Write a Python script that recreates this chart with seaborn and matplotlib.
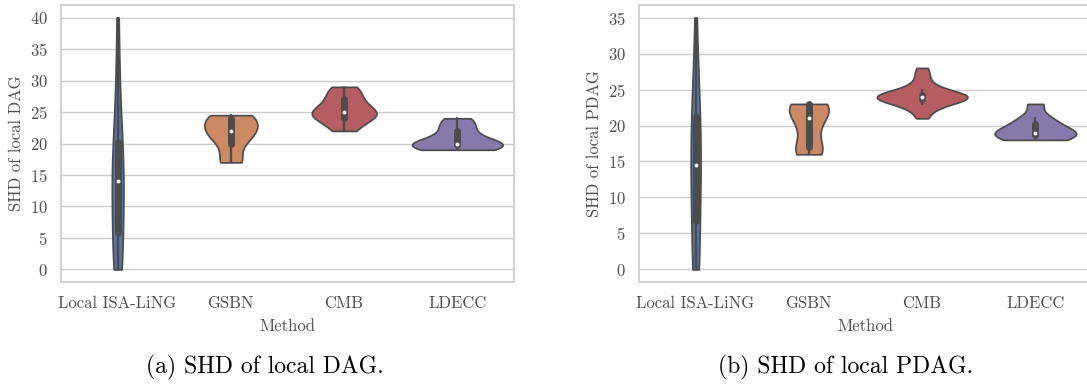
import matplotlib
matplotlib.use("Agg")
import matplotlib.pyplot as plt
import pandas as pd
import seaborn as sns
from matplotlib.ticker import MultipleLocator

methods = ['Local ISA-LiNG', 'GSBN', 'CMB', 'LDECC']

# SHD of local DAG, one value per run
dag_isa = [0, 0, 0, 1, 5, 6, 7, 9, 12, 14, 14, 15, 16, 18, 20, 21, 24, 28, 33, 40]
dag_gsbn = [17, 17, 17, 18, 20, 20, 21, 21, 22, 22, 22, 22, 23, 23, 24, 24, 24, 24.5, 24.5, 24.5]
dag_cmb = [22, 22, 23, 24, 24, 24, 24, 25, 25, 25, 25, 25, 26, 26, 27, 27, 28, 28, 29, 29]
dag_ldecc = [19, 19, 19, 19, 19, 20, 20, 20, 20, 20, 20, 20, 21, 21, 22, 22, 23, 23, 24, 24]

# SHD of local PDAG, one value per run
pdag_isa = [0, 0, 0, 1, 6, 7, 9, 10, 12, 14, 15, 16, 17, 19, 21, 22, 24, 26, 29, 35]
pdag_gsbn = [16, 16, 16, 16, 17, 17, 18, 19, 20, 21, 21, 21, 22, 22, 23, 23, 23, 23, 23, 23]
pdag_cmb = [21, 22, 23, 23, 23, 24, 24, 24, 24, 24, 24, 24, 24, 24, 24, 25, 25, 26, 27, 28]
pdag_ldecc = [18, 18, 18, 18, 18, 19, 19, 19, 19, 19, 19, 19, 20, 20, 20, 21, 21, 21, 23, 23]

deep = sns.color_palette('deep')
colors = [deep[0], deep[1], deep[3], deep[4]]


def long_df(groups):
    rows = []
    for m, vals in zip(methods, groups):
        for v in vals:
            rows.append({'Method': m, 'SHD': v})
    return pd.DataFrame(rows)


df_dag = long_df([dag_isa, dag_gsbn, dag_cmb, dag_ldecc])
df_pdag = long_df([pdag_isa, pdag_gsbn, pdag_cmb, pdag_ldecc])

sns.set_theme(style='whitegrid')
plt.rcParams['font.family'] = ['cmr10', 'DejaVu Serif']
plt.rcParams['axes.formatter.use_mathtext'] = True
plt.rcParams['mathtext.fontset'] = 'cm'

fig = plt.figure(figsize=(10.87, 3.85), dpi=100)
W, H = 1087, 385
ax1 = fig.add_axes([61 / W, (H - 282) / H, 453 / W, 277 / H])
ax2 = fig.add_axes([639 / W, (H - 282) / H, 453 / W, 277 / H])

for ax, df, ylab in [(ax1, df_dag, 'SHD of local DAG'), (ax2, df_pdag, 'SHD of local PDAG')]:
    sns.violinplot(data=df, x='Method', y='SHD', hue='Method', palette=colors,
                   cut=0, inner='box', common_norm=True, legend=False, ax=ax,
                   inner_kws=dict(marker='o', box_width=5))
    # small white median dot like the original
    for ln in ax.lines:
        if ln.get_marker() == 'o':
            ln.set_markersize(2.2)
            ln.set_markeredgewidth(0.6)
    ax.set_xlabel('Method', fontsize=12, labelpad=6)
    ax.set_ylabel(ylab, fontsize=12)
    ax.yaxis.set_major_locator(MultipleLocator(5))
    ax.tick_params(labelsize=12, labelcolor='.3')
    ax.xaxis.label.set_color('.3')
    ax.yaxis.label.set_color('.3')
    ax.xaxis.grid(False)

fig.text(265 / W, 1 - 367 / H, '(a) SHD of local DAG.', ha='center', va='center',
         fontsize=17, color='black')
fig.text(846 / W, 1 - 367 / H, '(b) SHD of local PDAG.', ha='center', va='center',
         fontsize=17, color='black')

fig.savefig('out.png', dpi=100)
